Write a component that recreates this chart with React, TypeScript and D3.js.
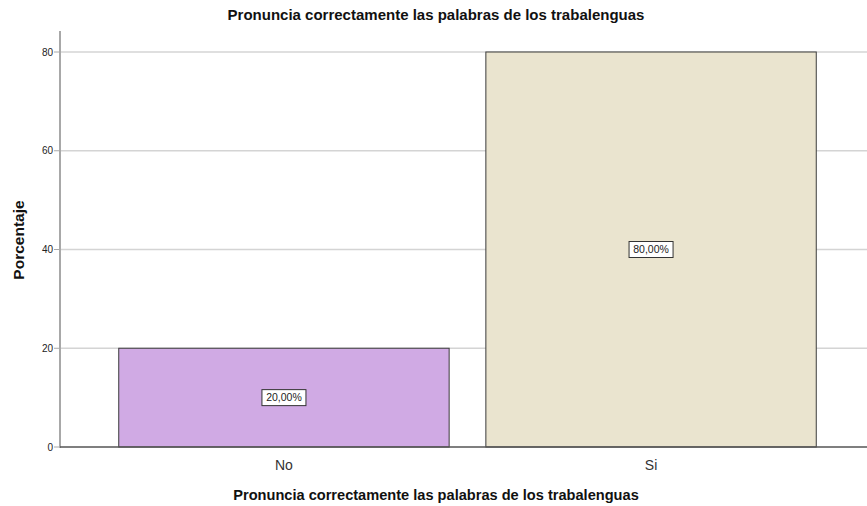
import React, { useEffect, useRef } from "react";
import * as d3 from "d3";

const categories = ["No", "Si"];
const values = [20, 80];
const valueLabels = ["20,00%", "80,00%"];
const barColors = ["#D0AAE4", "#EAE4CF"];
const yTicks = [0, 20, 40, 60, 80];

const title = "Pronuncia correctamente las palabras de los trabalenguas";

const App = () => {
  const svgRef = useRef<SVGSVGElement | null>(null);

  useEffect(() => {
    const width = 867;
    const height = 506;
    const font = "Arial, 'Liberation Sans', sans-serif";

    d3.select(svgRef.current).selectAll("*").remove();
    const svg = d3
      .select(svgRef.current)
      .attr("width", width)
      .attr("height", height)
      .style("font-family", font);

    const x = d3
      .scaleBand()
      .domain(categories)
      .range([60, 875])
      .paddingInner(0.1)
      .paddingOuter(0.16);

    const y = d3.scaleLinear().domain([0, 80]).range([447, 52]);

    // Gridlines
    svg
      .append("g")
      .selectAll("line")
      .data(yTicks.filter((t) => t > 0))
      .enter()
      .append("line")
      .attr("x1", 61)
      .attr("x2", width)
      .attr("y1", (d) => y(d))
      .attr("y2", (d) => y(d))
      .attr("stroke", "#d4d4d4")
      .attr("stroke-width", 1.5);

    // Bars
    const data = categories.map((c, i) => ({ c, v: values[i], label: valueLabels[i], color: barColors[i] }));
    svg
      .selectAll(".bar")
      .data(data)
      .enter()
      .append("rect")
      .attr("class", "bar")
      .attr("x", (d) => x(d.c)!)
      .attr("y", (d) => y(d.v))
      .attr("width", x.bandwidth())
      .attr("height", (d) => y(0) - y(d.v))
      .attr("fill", (d) => d.color)
      .attr("stroke", "#3c3c3c")
      .attr("stroke-width", 1);

    // Value labels
    const lbl = svg
      .selectAll(".lbl")
      .data(data)
      .enter()
      .append("g")
      .attr("class", "lbl")
      .attr("transform", (d) => `translate(${x(d.c)! + x.bandwidth() / 2},${y(d.v / 2)})`);
    lbl
      .append("rect")
      .attr("x", -22)
      .attr("y", -8)
      .attr("width", 44)
      .attr("height", 16)
      .attr("fill", "white")
      .attr("stroke", "#333")
      .attr("stroke-width", 1);
    lbl
      .append("text")
      .attr("text-anchor", "middle")
      .attr("dy", "0.35em")
      .attr("font-size", 10.5)
      .attr("fill", "#222")
      .text((d) => d.label);

    // Y axis
    svg
      .append("line")
      .attr("x1", 60)
      .attr("x2", 60)
      .attr("y1", 31)
      .attr("y2", 448)
      .attr("stroke", "#a8a8a8")
      .attr("stroke-width", 2);
    svg
      .append("g")
      .selectAll("g")
      .data(yTicks)
      .enter()
      .append("g")
      .call((g) => {
        g.append("line")
          .attr("x1", 54)
          .attr("x2", 60)
          .attr("y1", (d) => y(d))
          .attr("y2", (d) => y(d))
          .attr("stroke", "#a8a8a8");
        g.append("text")
          .attr("x", 53)
          .attr("y", (d) => y(d))
          .attr("dy", "0.35em")
          .attr("text-anchor", "end")
          .attr("font-size", 10)
          .attr("fill", "#222")
          .text((d) => d);
      });

    // X axis
    svg
      .append("line")
      .attr("x1", 60)
      .attr("x2", width)
      .attr("y1", y(0))
      .attr("y2", y(0))
      .attr("stroke", "#555")
      .attr("stroke-width", 1.5);
    svg
      .append("g")
      .selectAll("text")
      .data(categories)
      .enter()
      .append("text")
      .attr("x", (d) => x(d)! + x.bandwidth() / 2)
      .attr("y", 470)
      .attr("text-anchor", "middle")
      .attr("font-size", 14)
      .attr("fill", "#333")
      .text((d) => d);

    // Titles
    svg
      .append("text")
      .attr("x", 436)
      .attr("y", 19.5)
      .attr("text-anchor", "middle")
      .attr("font-size", 15)
      .attr("font-weight", "bold")
      .attr("fill", "#111")
      .text(title);
    svg
      .append("text")
      .attr("x", 436)
      .attr("y", 500)
      .attr("text-anchor", "middle")
      .attr("font-size", 14.6)
      .attr("font-weight", "bold")
      .attr("fill", "#111")
      .text(title);
    svg
      .append("text")
      .attr("transform", `translate(24,${240}) rotate(-90)`)
      .attr("text-anchor", "middle")
      .attr("font-size", 15.5)
      .attr("font-weight", "bold")
      .attr("fill", "#111")
      .text("Porcentaje");
  }, []);

  return (
    <div style={{ position: "absolute", left: 0, top: 0 }}>
      <svg ref={svgRef} style={{ display: "block", background: "white" }}></svg>
    </div>
  );
};

export default App;
